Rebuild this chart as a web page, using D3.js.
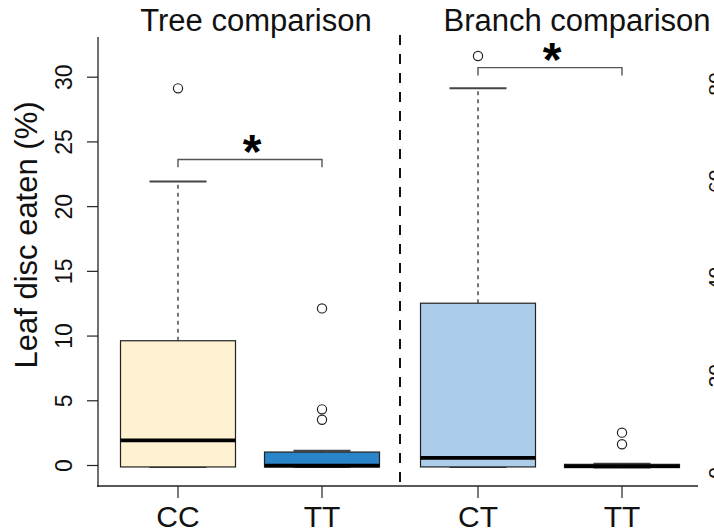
<!DOCTYPE html>
<html>
<head>
<meta charset="utf-8">
<script src="https://cdnjs.cloudflare.com/ajax/libs/d3/7.8.5/d3.min.js"></script>
<style>
  body { margin: 0; background: #fff; }
  svg { display: block; font-family: "Liberation Sans", Arial, sans-serif; }
</style>
</head>
<body>
<div id="chart"></div>
<script>
// box summaries (% leaf disc eaten)
var categories = ['CC', 'TT', 'CT', 'TT'];
var groupTitles = ['Tree comparison', 'Branch comparison'];
var lowWhisker = [-0.15, -0.15, -0.15, -0.2];
var q1 = [-0.15, -0.15, -0.15, -0.2];
var median = [1.9, -0.05, 0.55, -0.1];
var q3 = [9.6, 1.0, 12.5, 0.05];
var highWhisker = [21.9, 1.1, 29.1, 0.1];
var outliers = [[29.1], [12.1, 4.3, 3.5], [31.6], [2.5, 1.6]];
var boxColors = ['#fff2d3', '#2a84c8', '#abcde9', '#2a84c8'];
var yTicks = [0, 5, 10, 15, 20, 25, 30];
var yTitle = 'Leaf disc eaten (%)';
// significance brackets: [from box, to box, level, tip level]
var brackets = [[0, 1, 23.6, 23.0], [2, 3, 30.7, 30.1]];
// axis of the neighbouring panel, cut off at the right edge
var rightTicks = [0, 20, 40, 60, 80];

var width = 714, height = 532;
var svg = d3.select('#chart').append('svg')
  .attr('width', width).attr('height', height);

var y = d3.scaleLinear().domain([0, 30]).range([465, 76.7]);
var yRight = d3.scaleLinear().domain([0, 80]).range([473, 84]);

// x: equal steps with a small extra gap between the two comparisons
var x = function (i) {
  return 178 + i * 144 + (i >= 2 ? 12 : 0);
};
var boxW = 115, capW = 57;

// plot frame (L shape)
svg.append('line').attr('x1', 98).attr('x2', 98).attr('y1', 37).attr('y2', 487)
  .attr('stroke', '#222').attr('stroke-width', 1.3);
svg.append('line').attr('x1', 97).attr('x2', 698).attr('y1', 486).attr('y2', 486)
  .attr('stroke', '#222').attr('stroke-width', 1.3);

// y axis
var yAxis = svg.append('g').attr('transform', 'translate(98,0)')
  .call(d3.axisLeft(y).tickValues(yTicks).tickSize(11).tickFormat(d3.format('d')));
yAxis.select('.domain').remove();
yAxis.selectAll('line').attr('stroke', '#222').attr('stroke-width', 1.2);
yAxis.selectAll('text')
  .attr('x', null).attr('dy', null).attr('y', 0)
  .attr('transform', 'translate(-26,0) rotate(-90)')
  .attr('text-anchor', 'middle')
  .attr('font-size', 23).attr('fill', '#111')
  .style('font-family', '"Liberation Sans", Arial, sans-serif');

svg.append('text')
  .attr('transform', 'translate(37,235) rotate(-90)')
  .attr('text-anchor', 'middle')
  .attr('font-size', 31).attr('fill', '#111')
  .text(yTitle);

// x ticks and labels
categories.forEach(function (c, i) {
  svg.append('line').attr('x1', x(i)).attr('x2', x(i)).attr('y1', 486).attr('y2', 498)
    .attr('stroke', '#222').attr('stroke-width', 1.2);
  svg.append('text').attr('x', x(i)).attr('y', 527)
    .attr('text-anchor', 'middle').attr('font-size', 30).attr('fill', '#111')
    .text(c);
});

// dashed divider between the comparisons
svg.append('line').attr('x1', 400).attr('x2', 400).attr('y1', 35).attr('y2', 486)
  .attr('stroke', '#111').attr('stroke-width', 2).attr('stroke-dasharray', '10,9');

// titles
var titleX = [256, 577];
groupTitles.forEach(function (t, g) {
  svg.append('text').attr('x', titleX[g]).attr('y', 31)
    .attr('text-anchor', 'middle').attr('font-size', 31).attr('fill', '#111')
    .text(t);
});

// boxes
var boxes = svg.selectAll('g.box').data(categories).enter().append('g').attr('class', 'box');

boxes.append('line')
  .attr('x1', function (d, i) { return x(i); }).attr('x2', function (d, i) { return x(i); })
  .attr('y1', function (d, i) { return y(q3[i]); })
  .attr('y2', function (d, i) { return y(highWhisker[i]); })
  .attr('stroke', '#333').attr('stroke-width', 1.3).attr('stroke-dasharray', '4,4');
boxes.append('line')
  .attr('x1', function (d, i) { return x(i); }).attr('x2', function (d, i) { return x(i); })
  .attr('y1', function (d, i) { return y(q1[i]); })
  .attr('y2', function (d, i) { return y(lowWhisker[i]); })
  .attr('stroke', '#333').attr('stroke-width', 1.3).attr('stroke-dasharray', '4,4');

[highWhisker, lowWhisker].forEach(function (arr) {
  boxes.append('line')
    .attr('x1', function (d, i) { return x(i) - capW / 2; })
    .attr('x2', function (d, i) { return x(i) + capW / 2; })
    .attr('y1', function (d, i) { return y(arr[i]); })
    .attr('y2', function (d, i) { return y(arr[i]); })
    .attr('stroke', '#444').attr('stroke-width', 2);
});

boxes.append('rect')
  .attr('x', function (d, i) { return x(i) - boxW / 2; })
  .attr('width', boxW)
  .attr('y', function (d, i) { return y(q3[i]); })
  .attr('height', function (d, i) { return Math.max(0.5, y(q1[i]) - y(q3[i])); })
  .attr('fill', function (d, i) { return boxColors[i]; })
  .attr('stroke', '#222').attr('stroke-width', 1.2);

boxes.append('line')
  .attr('x1', function (d, i) { return x(i) - boxW / 2; })
  .attr('x2', function (d, i) { return x(i) + boxW / 2; })
  .attr('y1', function (d, i) { return y(median[i]); })
  .attr('y2', function (d, i) { return y(median[i]); })
  .attr('stroke', '#000').attr('stroke-width', 3.6);

boxes.each(function (d, i) {
  d3.select(this).selectAll('circle').data(outliers[i]).enter().append('circle')
    .attr('cx', x(i)).attr('cy', function (v) { return y(v); })
    .attr('r', 4.6).attr('fill', 'none').attr('stroke', '#222').attr('stroke-width', 1.2);
});

// significance brackets
brackets.forEach(function (b) {
  var x1 = x(b[0]), x2 = x(b[1]);
  svg.append('path')
    .attr('d', 'M' + x1 + ',' + y(b[3]) + 'V' + y(b[2]) + 'H' + x2 + 'V' + y(b[3]))
    .attr('fill', 'none').attr('stroke', '#555').attr('stroke-width', 1.4);
  svg.append('text').attr('x', (x1 + x2) / 2 + 2).attr('y', y(b[2]) + 8)
    .attr('text-anchor', 'middle').attr('font-size', 48).attr('font-weight', 'bold')
    .attr('fill', '#000').text('*');
});

// neighbouring panel's tick labels (clipped by the page edge)
svg.selectAll('text.rt').data(rightTicks).enter().append('text')
  .attr('class', 'rt')
  .attr('transform', function (d) { return 'translate(723,' + yRight(d) + ') rotate(-90)'; })
  .attr('text-anchor', 'middle').attr('font-size', 21).attr('fill', '#111')
  .text(function (d) { return d; });
</script>
</body>
</html>
